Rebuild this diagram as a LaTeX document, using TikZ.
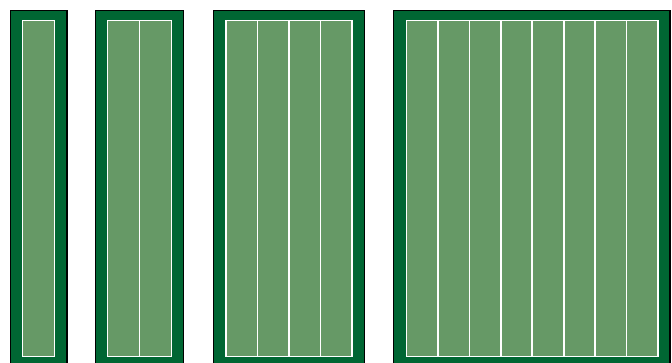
\documentclass[tikz,border=0pt]{standalone}
\definecolor{darkturf}{HTML}{006633}
\definecolor{lightturf}{HTML}{669966}
\tikzset{
  outerfield/.style={fill=darkturf,draw=black,line width=1.1pt},
  innerfield/.style={fill=lightturf,draw=white,line width=1.7pt},
  laneline/.style={draw=white,line width=1.7pt}
}
\begin{document}
\begin{tikzpicture}[x=1pt,y=-1pt]
\useasboundingbox (0,0) rectangle (672,363);
\clip (0,0) rectangle (672,363);
% field 1
\draw[outerfield] (10.5,10.5) rectangle (67,375);
\draw[innerfield] (22.5,20.5) rectangle (54.5,356.5);
% field 2
\draw[outerfield] (95.5,10.5) rectangle (183.5,375);
\draw[innerfield] (107.5,20.5) rectangle (171.5,356.5);
\draw[laneline] (139.5,20.5) -- (139.5,356.5);
% field 3
\draw[outerfield] (213.5,10.5) rectangle (364.5,375);
\draw[innerfield] (226,20.5) rectangle (352,356.5);
\foreach \i in {1,2,3} \draw[laneline] ({226+\i*31.5},20.5) -- ({226+\i*31.5},356.5);
% field 4
\draw[outerfield] (393.5,10.5) rectangle (670,375);
\draw[innerfield] (406.5,20.5) rectangle (658,356.5);
\foreach \i in {1,...,7} \draw[laneline] ({406.5+\i*31.4375},20.5) -- ({406.5+\i*31.4375},356.5);
\end{tikzpicture}
\end{document}
